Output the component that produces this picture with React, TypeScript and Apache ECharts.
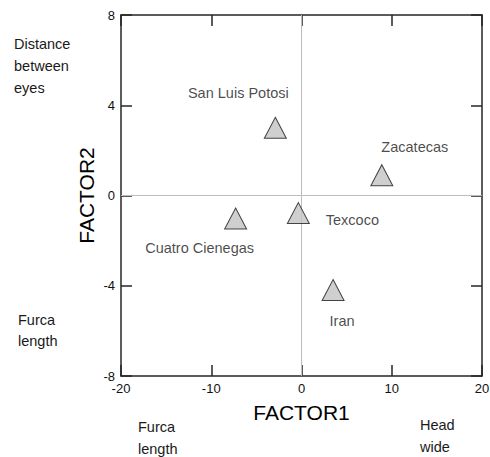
import React, { useEffect, useRef } from "react";
import * as echarts from "echarts";

const sites = ["San Luis Potosi", "Zacatecas", "Texcoco", "Cuatro Cienegas", "Iran"];
const factor1 = [-2.9, 8.9, -0.35, -7.3, 3.5];
const factor2 = [3.0, 0.9, -0.78, -1.02, -4.19];
const labelOffsets = [
  [-37, -35],
  [33, -28],
  [54, 7],
  [-36, 29],
  [9, 31],
];
const xTicks = { min: -20, max: 20, interval: 10 };
const yTicks = { min: -8, max: 8, interval: 4 };

export default function App() {
  const ref = useRef<HTMLDivElement>(null);
  useEffect(() => {
    document.body.style.margin = "0";
    const chart = echarts.init(ref.current!, undefined, { renderer: "svg" });
    const font = "Arial, 'Liberation Sans', sans-serif";
    const axisLine = { show: true, onZero: false, lineStyle: { color: "#262626", width: 1.5 } };
    const tick = { show: true, inside: true, length: 11, lineStyle: { color: "#262626", width: 1.5 } };
    const data = sites.map((s, i) => ({
      name: s,
      value: [factor1[i], factor2[i]],
      label: { offset: labelOffsets[i] },
    }));
    chart.setOption({
      animation: false,
      backgroundColor: "#ffffff",
      grid: { left: 121, top: 15, width: 361, height: 361, containLabel: false, outerBoundsMode: "none" },
      xAxis: [
        {
          type: "value",
          position: "bottom",
          ...xTicks,
          axisLine,
          axisTick: tick,
          splitLine: { show: false },
          axisLabel: { color: "#111", fontSize: 13, fontFamily: font, margin: 6 },
          name: "FACTOR1",
          nameLocation: "middle",
          nameGap: 26,
          nameMoveOverlap: false,
          nameTextStyle: { color: "#000", fontSize: 21, fontFamily: font },
        },
        {
          type: "value",
          position: "top",
          ...xTicks,
          axisLine,
          axisTick: tick,
          splitLine: { show: false },
          axisLabel: { show: false },
        },
      ],
      yAxis: [
        {
          type: "value",
          position: "left",
          ...yTicks,
          axisLine,
          axisTick: tick,
          splitLine: { show: false },
          axisLabel: { color: "#111", fontSize: 13, fontFamily: font, margin: 6 },
          name: "FACTOR2",
          nameLocation: "middle",
          nameGap: 24,
          nameMoveOverlap: false,
          nameTextStyle: { color: "#000", fontSize: 21, fontFamily: font },
        },
        {
          type: "value",
          position: "right",
          ...yTicks,
          axisLine,
          axisTick: tick,
          splitLine: { show: false },
          axisLabel: { show: false },
        },
      ],
      series: [
        {
          type: "scatter",
          xAxisIndex: 0,
          yAxisIndex: 0,
          symbol: "triangle",
          symbolSize: [22, 21],
          itemStyle: { color: "#c3c3c3", borderColor: "#1a1a1a", borderWidth: 1 },
          label: {
            show: true,
            position: "inside",
            formatter: "{b}",
            color: "#1a1a1a",
            fontSize: 14.5,
            fontFamily: font,
          },
          data,
          z: 5,
          markLine: {
            silent: true,
            symbol: "none",
            label: { show: false },
            lineStyle: { color: "#bdbdbd", type: "solid", width: 1 },
            data: [{ xAxis: 0 }, { yAxis: 0 }],
            z: 1,
          },
        },
      ],
      graphic: [
        { type: "text", left: 14, top: 33, style: { text: "Distance\nbetween\neyes", font: `14.5px ${font}`, fill: "#1a1a1a", lineHeight: 22 } },
        { type: "text", left: 18, top: 309, style: { text: "Furca\nlength", font: `14.5px ${font}`, fill: "#1a1a1a", lineHeight: 21 } },
        { type: "text", left: 138, top: 416, style: { text: "Furca\nlength", font: `14.5px ${font}`, fill: "#1a1a1a", lineHeight: 22 } },
        { type: "text", left: 420, top: 414, style: { text: "Head\nwide", font: `14.5px ${font}`, fill: "#1a1a1a", lineHeight: 22 } },
      ],
    });
    return () => chart.dispose();
  }, []);
  return <div ref={ref} style={{ position: "absolute", left: 0, top: 0, width: 490, height: 457 }} />;
}
